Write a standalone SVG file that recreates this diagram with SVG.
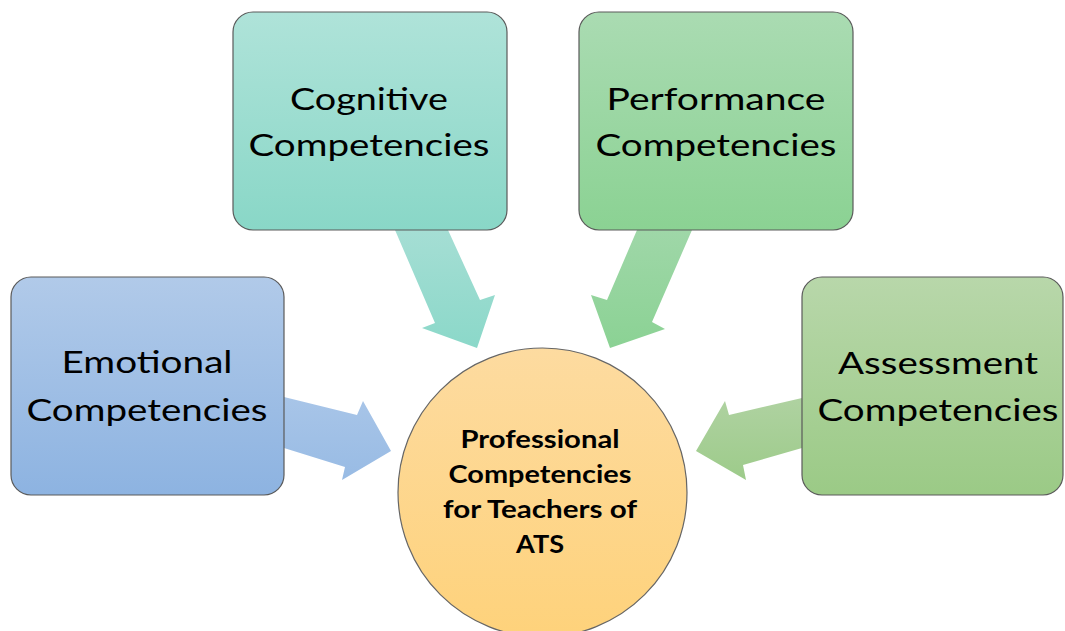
<svg xmlns="http://www.w3.org/2000/svg" width="1065" height="631" viewBox="0 0 1065 631">
  <defs>
    <linearGradient id="gEmo" x1="0" y1="0" x2="0" y2="1">
      <stop offset="0" stop-color="#b1cae9"/>
      <stop offset="1" stop-color="#8db3e1"/>
    </linearGradient>
    <linearGradient id="gCog" x1="0" y1="0" x2="0" y2="1">
      <stop offset="0" stop-color="#afe3d9"/>
      <stop offset="1" stop-color="#89d7c7"/>
    </linearGradient>
    <linearGradient id="gPerf" x1="0" y1="0" x2="0" y2="1">
      <stop offset="0" stop-color="#aadbb2"/>
      <stop offset="1" stop-color="#8bd293"/>
    </linearGradient>
    <linearGradient id="gAss" x1="0" y1="0" x2="0" y2="1">
      <stop offset="0" stop-color="#b8d7aa"/>
      <stop offset="1" stop-color="#9bca86"/>
    </linearGradient>
    <linearGradient id="gCore" x1="0" y1="0" x2="0" y2="1">
      <stop offset="0" stop-color="#fddba0"/>
      <stop offset="1" stop-color="#fed27b"/>
    </linearGradient>
    <linearGradient id="aEmo" gradientUnits="userSpaceOnUse" x1="0" y1="397" x2="0" y2="480">
      <stop offset="0" stop-color="#a8c5e8"/>
      <stop offset="1" stop-color="#98bbe4"/>
    </linearGradient>
    <linearGradient id="aCog" gradientUnits="userSpaceOnUse" x1="0" y1="230" x2="0" y2="348">
      <stop offset="0" stop-color="#a5ded4"/>
      <stop offset="1" stop-color="#8bd8c9"/>
    </linearGradient>
    <linearGradient id="aPerf" gradientUnits="userSpaceOnUse" x1="0" y1="230" x2="0" y2="348">
      <stop offset="0" stop-color="#9fd7a8"/>
      <stop offset="1" stop-color="#8bd294"/>
    </linearGradient>
    <linearGradient id="aAss" gradientUnits="userSpaceOnUse" x1="0" y1="398" x2="0" y2="480">
      <stop offset="0" stop-color="#afd2a1"/>
      <stop offset="1" stop-color="#9dcb8a"/>
    </linearGradient>
  </defs>
  <style>
    .box { stroke: #5a5a5a; stroke-width: 1.2; }
    .lbl { font-family: Lato, "Liberation Sans", sans-serif; font-size: 30.5px; fill: #000; text-anchor: middle; }
    .core { font-family: Lato, "Liberation Sans", sans-serif; font-size: 25.5px; font-weight: bold; fill: #000; text-anchor: middle; }
  </style>
  <rect width="1065" height="631" fill="#ffffff"/>

  <!-- block arrows pointing into the central circle -->
  <g id="connectors">
    <polygon fill="url(#aEmo)" points="284,397 357,415 363,401 391,451 342,480 345,467 284,448"/>
    <polygon fill="url(#aCog)" points="395,230 448,230 480,300 495,295 477,348 422,328 435,323"/>
    <polygon fill="url(#aPerf)" points="637,230 692,230 652,322 665,329 610,348 591,295 607,300"/>
    <polygon fill="url(#aAss)" points="802,398 729,415 725,401 696,451 746,480 743,465 802,448"/>
  </g>

  <g id="node-emotional">
    <rect class="box" x="11" y="277" width="273" height="218" rx="20" fill="url(#gEmo)"/>
    <text class="lbl" x="147" y="373" textLength="171" lengthAdjust="spacingAndGlyphs">Emotional</text>
    <text class="lbl" x="147" y="421" textLength="241" lengthAdjust="spacingAndGlyphs">Competencies</text>
  </g>

  <g id="node-cognitive">
    <rect class="box" x="233" y="12" width="274" height="218" rx="20" fill="url(#gCog)"/>
    <text class="lbl" x="369" y="110" textLength="158" lengthAdjust="spacingAndGlyphs">Cognitive</text>
    <text class="lbl" x="369" y="156" textLength="241" lengthAdjust="spacingAndGlyphs">Competencies</text>
  </g>

  <g id="node-performance">
    <rect class="box" x="579" y="12" width="274" height="218" rx="20" fill="url(#gPerf)"/>
    <text class="lbl" x="716" y="110" textLength="219" lengthAdjust="spacingAndGlyphs">Performance</text>
    <text class="lbl" x="716" y="156" textLength="241" lengthAdjust="spacingAndGlyphs">Competencies</text>
  </g>

  <g id="node-assessment">
    <rect class="box" x="802" y="277" width="261" height="218" rx="20" fill="url(#gAss)"/>
    <text class="lbl" x="938" y="374" textLength="200" lengthAdjust="spacingAndGlyphs">Assessment</text>
    <text class="lbl" x="938" y="421" textLength="241" lengthAdjust="spacingAndGlyphs">Competencies</text>
  </g>

  <g id="node-core">
    <circle cx="542.5" cy="492.5" r="144.5" fill="url(#gCore)" stroke="#666666" stroke-width="1.2"/>
    <text class="core" x="540" y="448" textLength="159" lengthAdjust="spacingAndGlyphs">Professional</text>
    <text class="core" x="540" y="483" textLength="183" lengthAdjust="spacingAndGlyphs">Competencies</text>
    <text class="core" x="540" y="518" textLength="194" lengthAdjust="spacingAndGlyphs">for Teachers of</text>
    <text class="core" x="540" y="553" textLength="48" lengthAdjust="spacingAndGlyphs">ATS</text>
  </g>
</svg>
